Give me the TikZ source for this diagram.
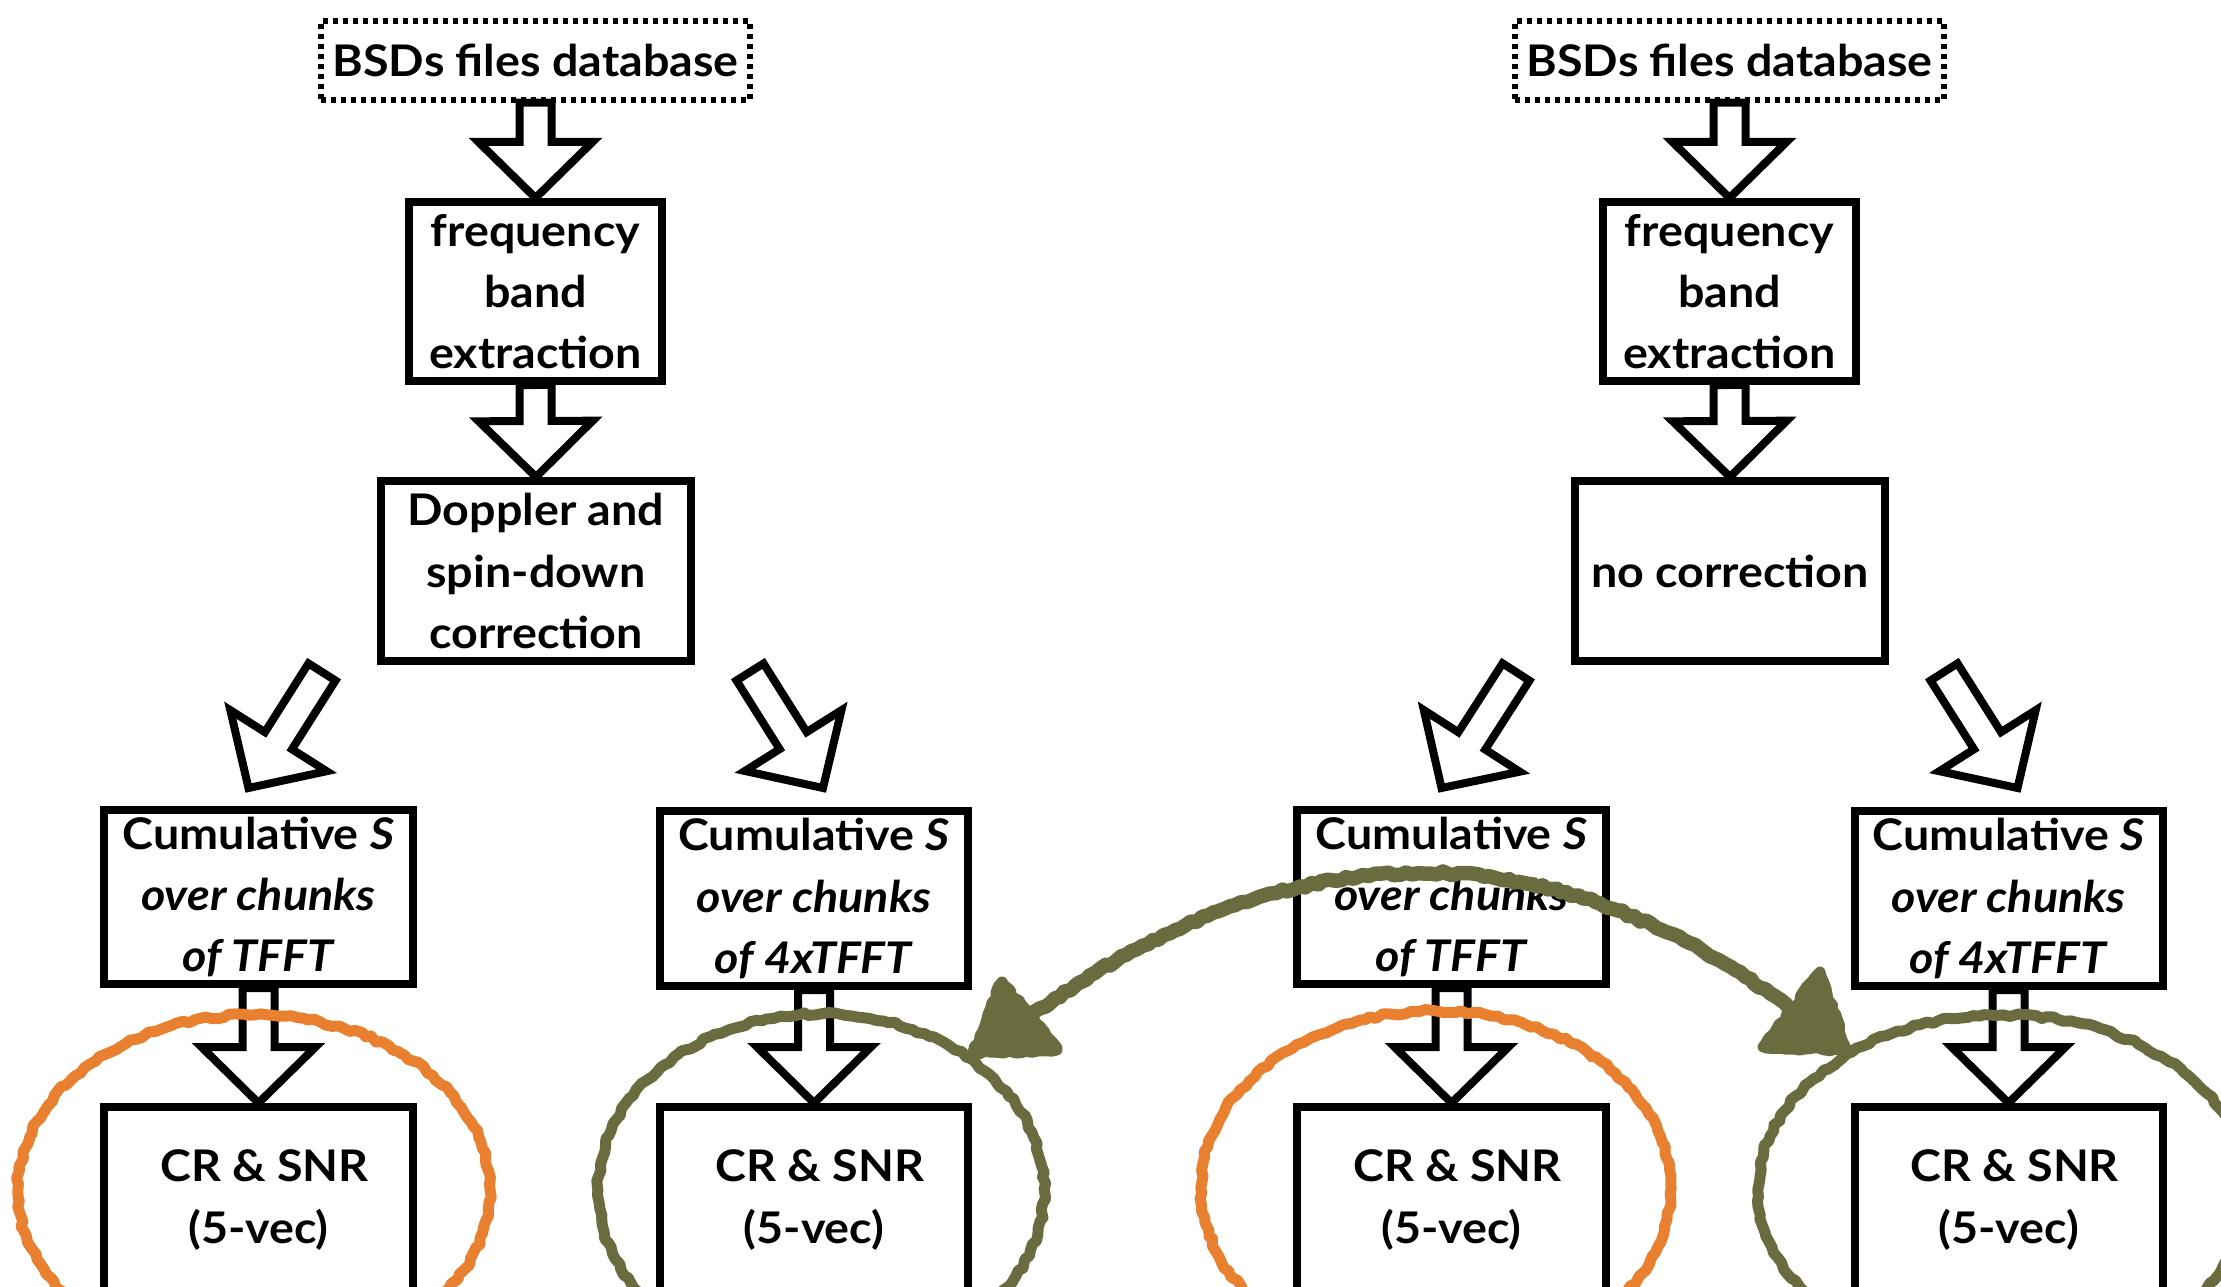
\documentclass[tikz,border=0pt]{standalone}
\usepackage{fontspec}
\setmainfont{Lato}[FakeStretch=1.07]
\usetikzlibrary{calc,decorations.pathmorphing}

\definecolor{chalkorange}{RGB}{232,128,48}
\definecolor{chalkolive}{RGB}{107,107,64}

\newcommand\boxfont{\fontsize{12.4pt}{17.4pt}\selectfont\bfseries}

% hollow block arrow from #1 to #2 (tip at #2)
\newcommand\blockarrow[2]{%
  \coordinate (ba-neck) at ($(#2)!5.6mm!(#1)$);
  \draw[hollowarrow]
    ($(#1)!1.6mm!90:(#2)$) -- ($(ba-neck)!1.6mm!90:(#2)$) --
    ($(ba-neck)!5.7mm!90:(#2)$) -- (#2) --
    ($(ba-neck)!5.7mm!-90:(#2)$) -- ($(ba-neck)!1.6mm!-90:(#2)$) --
    ($(#1)!1.6mm!-90:(#2)$) -- cycle;}

\begin{document}
\begin{tikzpicture}[x=0.1mm,y=-0.1mm,
  flowbox/.style={draw,line width=0.8mm,align=center,inner sep=0pt,font=\boxfont},
  dbbox/.style={draw,line width=0.55mm,dash pattern=on 0.5mm off 0.5mm,align=center,inner sep=0pt,font=\boxfont},
  hollowarrow/.style={draw,line width=0.8mm,line join=miter},
  chalk/.style={line cap=round,line join=round,decorate,
    decoration={random steps,segment length=0.6mm,amplitude=0.18mm}},
  orangechalk/.style={chalk,draw=chalkorange,line width=1.1mm},
  olivechalk/.style={chalk,draw=chalkolive,fill=chalkolive,line width=1.1mm},
  olivestroke/.style={chalk,draw=chalkolive,line width=1.1mm}]
\pgfmathsetseed{7}
\path[use as bounding box] (0,0) rectangle (2221,1287);
\clip (0,0) rectangle (2221,1287);

% ---------- left pipeline: with Doppler correction ----------
\node[dbbox,minimum width=42.9mm,minimum height=7.9mm] (bsdL) at (535.5,60.5) {BSDs files database};
\node[flowbox,minimum width=25.3mm,minimum height=17.9mm] (freqL) at (535.5,291.5) {frequency\\band\\extraction};
\node[flowbox,minimum width=31mm,minimum height=18mm] (dopL) at (536,571) {Doppler and\\spin-down\\correction};
\node[flowbox,minimum width=30.9mm,minimum height=17.4mm] (cumL1) at (258.5,897)
  {Cumulative \textit{S}\\\textit{over chunks}\\\textit{of TFFT}};
\node[flowbox,minimum width=30.8mm,minimum height=17.5mm] (cumL2) at (814,898.5)
  {Cumulative \textit{S}\\\textit{over chunks}\\\textit{of 4xTFFT}};
\node[flowbox,minimum width=30.9mm,minimum height=18.6mm] (crL1) at (258.5,1200) {\hspace*{1.2mm}CR \& SNR\\(5-vec)};
\node[flowbox,minimum width=30.8mm,minimum height=18.6mm] (crL2) at (814,1200) {\hspace*{1.2mm}CR \& SNR\\(5-vec)};

% ---------- right pipeline: no correction ----------
\node[dbbox,minimum width=42.9mm,minimum height=7.9mm] (bsdR) at (1729.5,60.5) {BSDs files database};
\node[flowbox,minimum width=25.3mm,minimum height=17.9mm] (freqR) at (1729.5,291.5) {frequency\\band\\extraction};
\node[flowbox,minimum width=31mm,minimum height=18mm] (nocR) at (1730,571) {no correction};
\node[flowbox,minimum width=30.9mm,minimum height=17.4mm] (cumR1) at (1451.5,897)
  {Cumulative \textit{S}\\\textit{over chunks}\\\textit{of TFFT}};
\node[flowbox,minimum width=30.8mm,minimum height=17.5mm] (cumR2) at (2008.5,898.5)
  {Cumulative \textit{S}\\\textit{over chunks}\\\textit{of 4xTFFT}};
\node[flowbox,minimum width=30.9mm,minimum height=18.6mm] (crR1) at (1451.5,1200) {\hspace*{1.2mm}CR \& SNR\\(5-vec)};
\node[flowbox,minimum width=30.8mm,minimum height=18.6mm] (crR2) at (2008.5,1200) {\hspace*{1.2mm}CR \& SNR\\(5-vec)};

% ---------- vertical block arrows ----------
\blockarrow{bsdL.south}{freqL.north}
\blockarrow{freqL.south}{dopL.north}
\blockarrow{cumL1.south}{crL1.north}
\blockarrow{cumL2.south}{crL2.north}
\blockarrow{bsdR.south}{freqR.north}
\blockarrow{freqR.south}{nocR.north}
\blockarrow{cumR1.south}{crR1.north}
\blockarrow{cumR2.south}{crR2.north}

% ---------- diagonal block arrows (free-standing) ----------
\coordinate (dlL-tail) at ($(dopL.south)+(-214,7)$);
\coordinate (dlL-tip)  at ($(cumL1.north)+(-10,-18)$);
\coordinate (drL-tail) at ($(dopL.south)+(214,7)$);
\coordinate (drL-tip)  at ($(cumL2.north)+(9,-19)$);
\coordinate (dlR-tail) at ($(nocR.south)+(-214,7)$);
\coordinate (dlR-tip)  at ($(cumR1.north)+(-10,-18)$);
\coordinate (drR-tail) at ($(nocR.south)+(214,7)$);
\coordinate (drR-tip)  at ($(cumR2.north)+(9,-19)$);
\blockarrow{dlL-tail}{dlL-tip}
\blockarrow{drL-tail}{drL-tip}
\blockarrow{dlR-tail}{dlR-tip}
\blockarrow{drR-tail}{drR-tip}

% ---------- hand-drawn highlights ----------
\draw[orangechalk] (254,1190) ellipse [x radius=23.6mm, y radius=17.5mm];
\draw[olivestroke] (821,1190) ellipse [x radius=22.3mm, y radius=17.6mm];
\draw[orangechalk] (1436,1188) ellipse [x radius=23.5mm, y radius=17.7mm];
\draw[olivestroke] (2003,1190) ellipse [x radius=24.5mm, y radius=17.5mm];

% swap arrow between the two 4xTFFT results
\coordinate (swapL) at (1030,1016);
\coordinate (swapR) at (1792,1010);
\draw[olivestroke,line width=1.45mm] (swapL) .. controls (1290,829) and (1545,823) .. (swapR);
\filldraw[olivechalk] (973,1053) -- (1002,982) -- (1057,1050) -- cycle;
\filldraw[olivechalk] (1847,1050) -- (1820,972) -- (1763,1047) -- cycle;
\end{tikzpicture}
\end{document}
